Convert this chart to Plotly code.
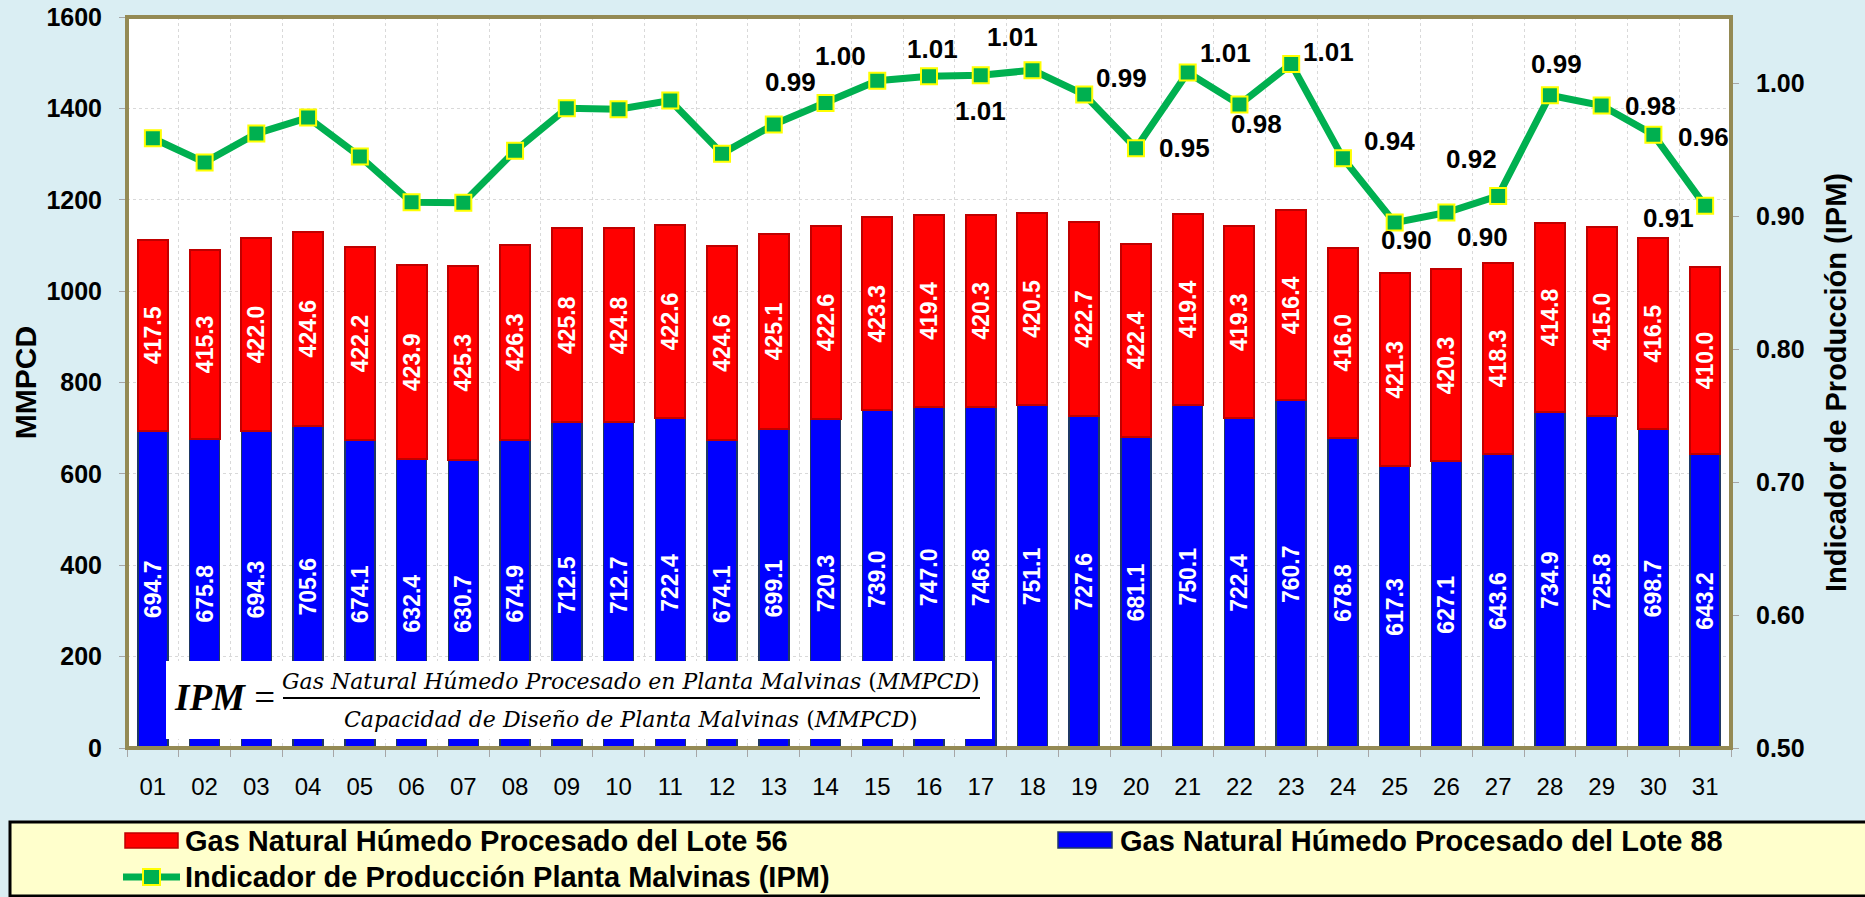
import plotly.graph_objects as go

# ---------------- data ----------------
days = ["01", "02", "03", "04", "05", "06", "07", "08", "09", "10", "11", "12", "13", "14", "15", "16",
        "17", "18", "19", "20", "21", "22", "23", "24", "25", "26", "27", "28", "29", "30", "31"]

lote88 = [694.7, 675.8, 694.3, 705.6, 674.1, 632.4, 630.7, 674.9, 712.5, 712.7, 722.4, 674.1, 699.1, 720.3,
          739.0, 747.0, 746.8, 751.1, 727.6, 681.1, 750.1, 722.4, 760.7, 678.8, 617.3, 627.1, 643.6, 734.9,
          725.8, 698.7, 643.2]

lote56 = [417.5, 415.3, 422.0, 424.6, 422.2, 423.9, 425.3, 426.3, 425.8, 424.8, 422.6, 424.6, 425.1, 422.6,
          423.3, 419.4, 420.3, 420.5, 422.7, 422.4, 419.4, 419.3, 416.4, 416.0, 421.3, 420.3, 418.3, 414.8,
          415.0, 416.5, 410.0]

ipm = [0.9588, 0.9406, 0.9623, 0.9743, 0.9451, 0.9106, 0.9103, 0.9493, 0.9813, 0.9806, 0.9871, 0.9472,
       0.9691, 0.9853, 1.0020, 1.0055, 1.0061, 1.0100, 0.9916, 0.9513, 1.0082, 0.9842, 1.0147, 0.9438,
       0.8953, 0.9029, 0.9154, 0.9911, 0.9834, 0.9614, 0.9079]

# days whose IPM value is labelled in the chart
ipm_label_days = ["14", "15", "16", "17", "18", "19", "20", "21", "22", "23", "24", "25", "26", "27",
                  "28", "29", "30", "31"]

# ---------------- style ----------------
# pixel offsets (dx right, dy down) of each IPM label relative to its marker
ipm_label_offsets = [(-35, -21), (-37, -25), (3, -27), (0, 36), (-20, -33), (37, -17), (49, 0), (38, -20),
                     (17, 20), (37, -12), (47, -17), (12, 17), (36, 24), (-27, -37), (7, -31), (49, 0),
                     (50, 2), (-37, 12)]

FONT = "Liberation Sans, Arial, sans-serif"
SERIF = "DejaVu Serif, serif"
SERIF2 = "Liberation Serif, serif"
W, H = 1865, 897
L, R, T, B = 127, 1731, 17, 748  # plot area in pixels


def xp(px):
    return (px - L) / (R - L)


def yp(py):
    return (B - py) / (B - T)


fig = go.Figure()

fig.add_trace(go.Bar(
    x=days, y=lote88, name="Gas Natural Húmedo Procesado del Lote 88",
    marker=dict(color="#0000FF", line=dict(color="#1F3864", width=1.5)),
    text=[f"{v:.1f}" for v in lote88], textposition="inside", insidetextanchor="middle",
    textangle=-90, constraintext="none",
    textfont=dict(color="white", size=23, family=FONT, weight="bold"),
    width=0.58, showlegend=False))

fig.add_trace(go.Bar(
    x=days, y=lote56, name="Gas Natural Húmedo Procesado del Lote 56",
    marker=dict(color="#FF0000", line=dict(color="#C00000", width=2)),
    text=[f"{v:.1f}" for v in lote56], textposition="inside", insidetextanchor="middle",
    textangle=-90, constraintext="none",
    textfont=dict(color="white", size=23, family=FONT, weight="bold"),
    width=0.58, showlegend=False))

fig.add_trace(go.Scatter(
    x=days, y=ipm, yaxis="y2", name="Indicador de Producción Planta Malvinas (IPM)",
    mode="lines+markers", line=dict(color="#00B050", width=7),
    marker=dict(symbol="square", size=16, color="#00B050", line=dict(color="#FFFF00", width=2)),
    showlegend=False))

grid = "#D9D9D9"
fig.update_layout(
    width=W, height=H,
    margin=dict(l=L, r=W - R, t=T, b=H - B, pad=0, autoexpand=False),
    paper_bgcolor="#DAEEF3", plot_bgcolor="white",
    barmode="stack", showlegend=False,
    font=dict(family=FONT, color="black"),
    xaxis=dict(type="category", categoryorder="array", categoryarray=days,
               range=[-0.5, len(days) - 0.5], tickson="boundaries",
               ticks="outside", ticklen=8, tickcolor="#A6A6A6",
               tickfont=dict(size=24), showgrid=True, gridcolor=grid, griddash="dot",
               showline=False, zeroline=False, ticklabelstandoff=22),
    yaxis=dict(range=[0, 1600], dtick=200, ticks="outside", ticklen=7, tickcolor="#A6A6A6",
               tickfont=dict(size=25, weight="bold"), showgrid=True, gridcolor=grid, griddash="dot",
               zeroline=False, showline=False, ticklabelstandoff=12,
               title=dict(text="MMPCD", font=dict(size=30, weight="bold"), standoff=0)),
    yaxis2=dict(overlaying="y", side="right", range=[0.5, 1.05], tick0=0.5, dtick=0.1, tickformat=".2f",
                ticks="outside", ticklen=7, tickcolor="#A6A6A6", tickfont=dict(size=25, weight="bold"),
                showgrid=False, zeroline=False, showline=False, ticklabelstandoff=12,
                title=dict(text="Indicador de Producción (IPM)", font=dict(size=29, weight="bold"),
                           standoff=22)),
)

# IPM data labels (x given as category index)
for d, (dx, dy) in zip(ipm_label_days, ipm_label_offsets):
    i = days.index(d)
    v = ipm[i]
    fig.add_annotation(x=i, y=v, xref="x", yref="y2", text=f"{v:.2f}", showarrow=False,
                       xshift=dx, yshift=-dy, font=dict(size=26, weight="bold", color="black"))

shapes = []
# plot-area border
shapes.append(dict(type="rect", xref="paper", yref="paper", x0=0, x1=1, y0=0, y1=1,
                   line=dict(color="#948A54", width=4), layer="above"))
# formula box
shapes.append(dict(type="rect", xref="paper", yref="paper", x0=xp(166), x1=xp(992), y0=yp(739), y1=yp(661),
                   fillcolor="white", line=dict(width=0), layer="above"))
shapes.append(dict(type="line", xref="paper", yref="paper", x0=xp(283), x1=xp(980), y0=yp(698), y1=yp(698),
                   line=dict(color="black", width=2), layer="above"))
# legend box
shapes.append(dict(type="rect", xref="paper", yref="paper", x0=xp(10), x1=xp(1875), y0=yp(896), y1=yp(822),
                   fillcolor="#FFFFCC", line=dict(color="black", width=3), layer="above"))
shapes.append(dict(type="rect", xref="paper", yref="paper", x0=xp(125), x1=xp(178), y0=yp(848), y1=yp(833),
                   fillcolor="#FF0000", line=dict(color="#C00000", width=1.5), layer="above"))
shapes.append(dict(type="rect", xref="paper", yref="paper", x0=xp(1058), x1=xp(1112), y0=yp(848), y1=yp(832),
                   fillcolor="#0000FF", line=dict(color="#1F3864", width=1.5), layer="above"))
shapes.append(dict(type="line", xref="paper", yref="paper", x0=xp(123), x1=xp(180), y0=yp(877), y1=yp(877),
                   line=dict(color="#00B050", width=7), layer="above"))
shapes.append(dict(type="rect", xref="paper", yref="paper", x0=xp(143), x1=xp(160), y0=yp(885), y1=yp(869),
                   fillcolor="#00B050", line=dict(color="#FFFF00", width=2), layer="above"))
fig.update_layout(shapes=shapes)

# formula text
fig.add_annotation(xref="paper", yref="paper", x=xp(224), y=yp(697), text="<b><i>IPM</i></b> =",
                   showarrow=False, xanchor="center", yanchor="middle",
                   font=dict(family=SERIF2, size=37, color="black"))
fig.add_annotation(xref="paper", yref="paper", x=xp(631), y=yp(681),
                   text="<i>Gas Natural Húmedo Procesado en Planta Malvinas</i> (<i>MMPCD</i>)",
                   showarrow=False, xanchor="center", yanchor="middle",
                   font=dict(family=SERIF, size=22, color="black"))
fig.add_annotation(xref="paper", yref="paper", x=xp(631), y=yp(719),
                   text="<i>Capacidad de Diseño de Planta Malvinas</i> (<i>MMPCD</i>)",
                   showarrow=False, xanchor="center", yanchor="middle",
                   font=dict(family=SERIF, size=22, color="black"))

# legend text
for x0, y0, txt in [(183, 841, "Gas Natural Húmedo Procesado del Lote 56"),
                    (1118, 841, "Gas Natural Húmedo Procesado del Lote 88"),
                    (183, 877, "Indicador de Producción Planta Malvinas (IPM)")]:
    fig.add_annotation(xref="paper", yref="paper", x=xp(x0), y=yp(y0), text=txt, showarrow=False,
                       xanchor="left", yanchor="middle",
                       font=dict(family=FONT, size=29, weight="bold", color="black"))

fig.write_html("out.html", config={"displayModeBar": False},
               post_script="document.body.style.margin='0';document.body.style.overflow='hidden';")
